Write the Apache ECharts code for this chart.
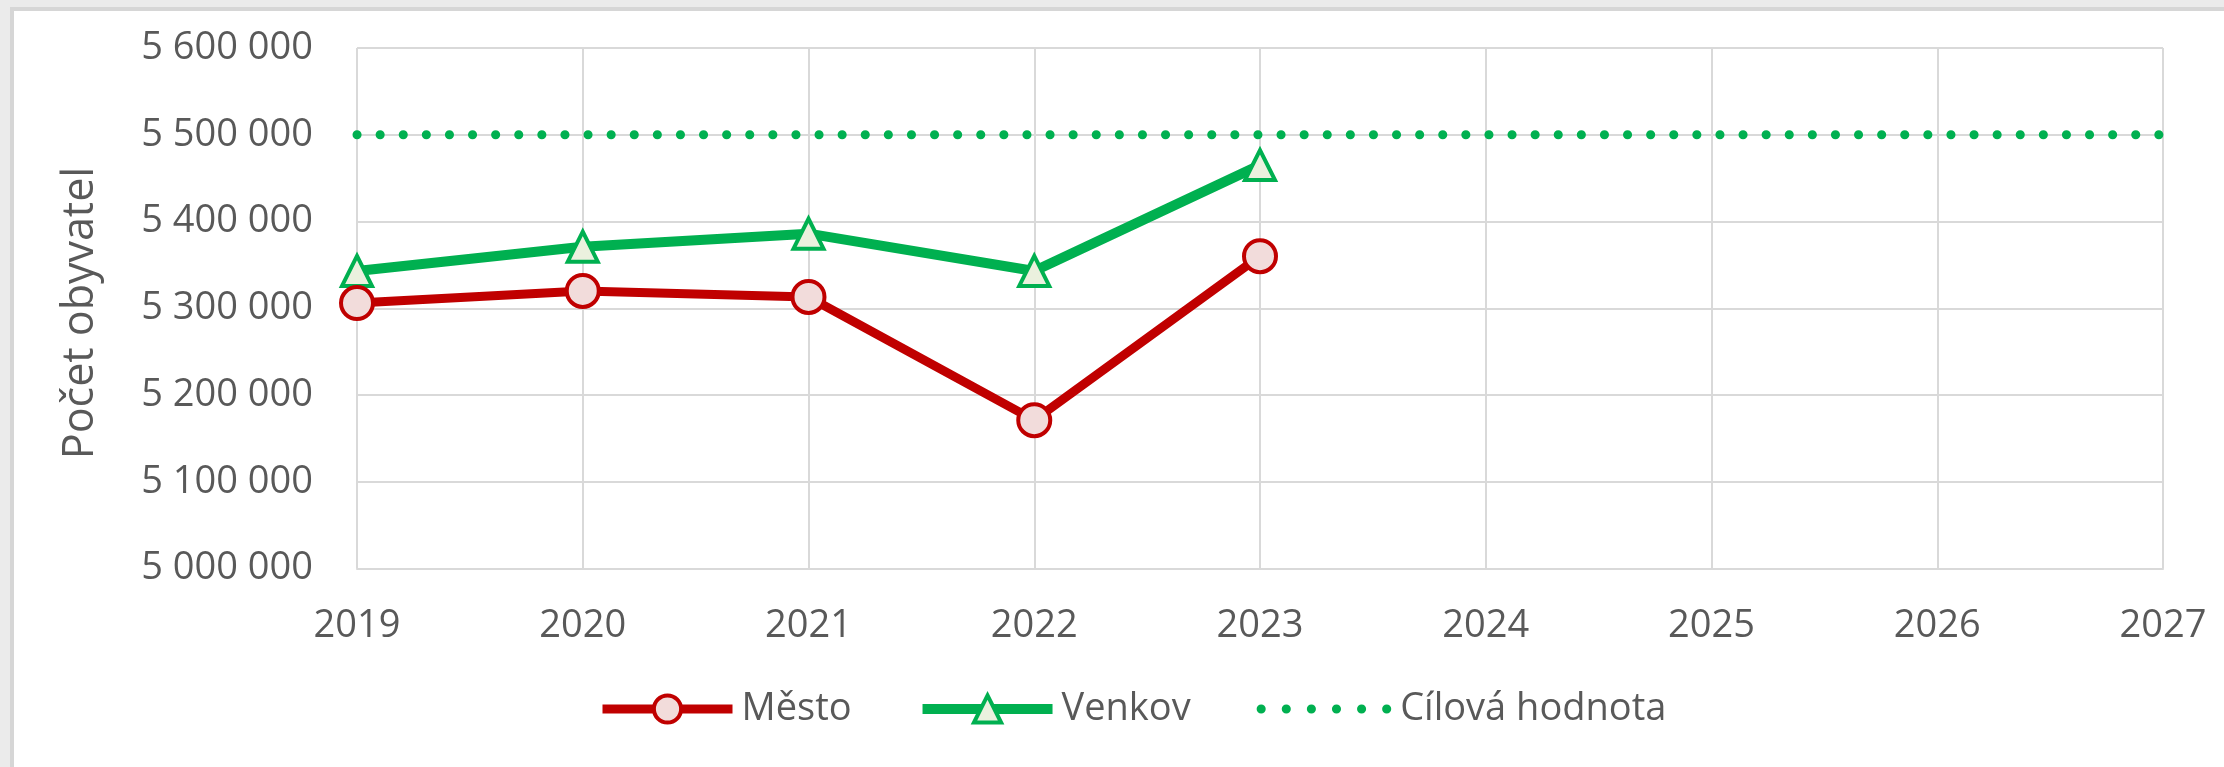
<!DOCTYPE html>
<html>
<head>
<meta charset="utf-8">
<script src="https://cdn.jsdelivr.net/npm/echarts@6/dist/echarts.min.js"></script>
<style>
html,body{margin:0;padding:0;background:#ebebeb;}
#c{width:2224px;height:767px;}
</style>
</head>
<body>
<div id="c"></div>
<script>
const years = ['2019','2020','2021','2022','2023','2024','2025','2026','2027'];
const mesto = [5306000, 5320000, 5313000, 5171000, 5360000, null, null, null, null];
const venkov = [5343000, 5371000, 5386000, 5343000, 5465000, null, null, null, null];
const cilova = [5500000, 5500000, 5500000, 5500000, 5500000, 5500000, 5500000, 5500000, 5500000];
const seriesNames = ['Město', 'Venkov', 'Cílová hodnota'];
const yAxisTitle = 'Počet obyvatel';

const FONT = 'Open Sans';
const TXT = '#595959';
const GRID = '#d9d9d9';
const RED = '#c00000';
const GREEN = '#00b050';

const chart = echarts.init(document.getElementById('c'), null, {renderer: 'canvas'});
const fmt = v => String(v).replace(/\B(?=(\d{3})+(?!\d))/g, ' ');

chart.setOption({
  animation: false,
  backgroundColor: '#ebebeb',
  graphic: [{
    type: 'rect',
    z: -10,
    shape: {x: 12, y: 9, width: 2400, height: 1000},
    style: {fill: '#ffffff', stroke: '#d6d6d6', lineWidth: 4}
  }, {
    type: 'text',
    x: 81,
    y: 313,
    rotation: Math.PI / 2,
    style: {
      text: yAxisTitle,
      fontFamily: FONT,
      fontSize: 43,
      fill: TXT,
      textAlign: 'center',
      textVerticalAlign: 'middle'
    }
  }],
  grid: {left: 357, right: 61, top: 48, bottom: 198.5, containLabel: false},
  legend: {
    left: 593,
    top: 685,
    itemWidth: 130,
    itemHeight: 34,
    itemGap: 66,
    data: [
      {name: seriesNames[0], lineStyle: {width: 9, color: RED}, itemStyle: {color: '#f2dcdb', borderColor: RED, borderWidth: 4}},
      {name: seriesNames[1], lineStyle: {width: 10, color: GREEN}, itemStyle: {color: '#ebf1de', borderColor: GREEN, borderWidth: 4}},
      {name: seriesNames[2], lineStyle: {width: 9, color: GREEN, type: [0.1, 25], cap: 'round'}, itemStyle: {opacity: 0}}
    ],
    textStyle: {fontFamily: FONT, fontSize: 38, color: TXT, padding: [0, 0, 0, 4]}
  },
  xAxis: {
    type: 'category',
    data: years,
    boundaryGap: false,
    axisLine: {show: true, lineStyle: {color: GRID, width: 2}},
    axisTick: {show: false},
    splitLine: {show: true, lineStyle: {color: GRID, width: 2}},
    axisLabel: {fontFamily: FONT, fontSize: 38, color: TXT, margin: 39, interval: 0}
  },
  yAxis: {
    type: 'value',
    min: 5000000,
    max: 5600000,
    interval: 100000,
    axisLine: {show: false},
    axisTick: {show: false},
    splitLine: {show: true, lineStyle: {color: GRID, width: 2}},
    axisLabel: {fontFamily: FONT, fontSize: 38, color: TXT, margin: 44, formatter: fmt}
  },
  series: [
    {
      name: seriesNames[0],
      type: 'line',
      data: mesto,
      symbol: 'circle',
      symbolSize: 32,
      z: 4,
      lineStyle: {color: RED, width: 9},
      itemStyle: {color: '#f2dcdb', borderColor: RED, borderWidth: 4},
      emphasis: {disabled: true}
    },
    {
      name: seriesNames[1],
      type: 'line',
      data: venkov,
      symbol: 'triangle',
      symbolSize: 30,
      z: 3,
      lineStyle: {color: GREEN, width: 10},
      itemStyle: {color: '#ebf1de', borderColor: GREEN, borderWidth: 4},
      emphasis: {disabled: true}
    },
    {
      name: seriesNames[2],
      type: 'line',
      data: cilova,
      symbol: 'none',
      z: 2,
      lineStyle: {color: GREEN, width: 9, type: [0.1, 23], cap: 'round'},
      itemStyle: {color: GREEN},
      emphasis: {disabled: true}
    }
  ]
});
</script>
</body>
</html>
